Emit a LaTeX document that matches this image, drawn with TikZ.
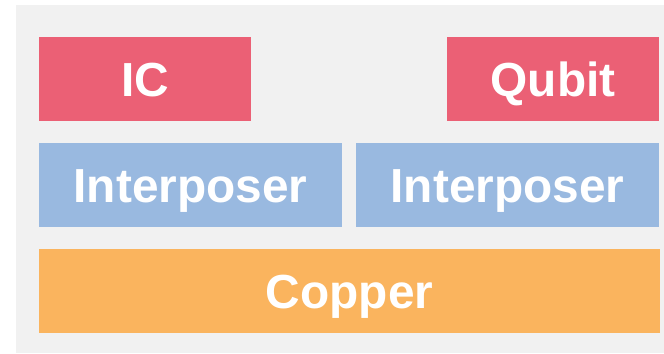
\documentclass[tikz,border=0pt]{standalone}
\usepackage{fontspec}
\setmainfont{Liberation Sans}
\definecolor{bggray}{HTML}{F1F1F1}
\definecolor{chipred}{HTML}{EB6075}
\definecolor{layerblue}{HTML}{99B9E0}
\definecolor{copperorange}{HTML}{FAB45E}
\begin{document}
\begin{tikzpicture}[x=1bp,y=-1bp,
  layer/.style={rectangle, inner sep=0pt, outer sep=0pt, text=white,
    minimum height=84bp, anchor=north west,
    text height=35bp, text depth=0pt,
    font=\fontsize{48}{50}\selectfont\bfseries}]
  \useasboundingbox (0,0) rectangle (664,353);
  \fill[bggray] (16,5) rectangle (664,353);
  % top row: chips
  \node[layer, fill=chipred, minimum width=212bp] (ic) at (39,37) {IC};
  \node[layer, fill=chipred, minimum width=212bp] (qubit) at (447,37) {Qubit};
  % middle row: interposers
  \node[layer, fill=layerblue, minimum width=303bp] (intl) at (39,143) {Interposer};
  \node[layer, fill=layerblue, minimum width=303bp] (intr) at (356,143) {Interposer};
  % bottom row: copper base
  \node[layer, fill=copperorange, minimum width=621bp] (copper) at (39,249) {Copper};
\end{tikzpicture}
\end{document}
